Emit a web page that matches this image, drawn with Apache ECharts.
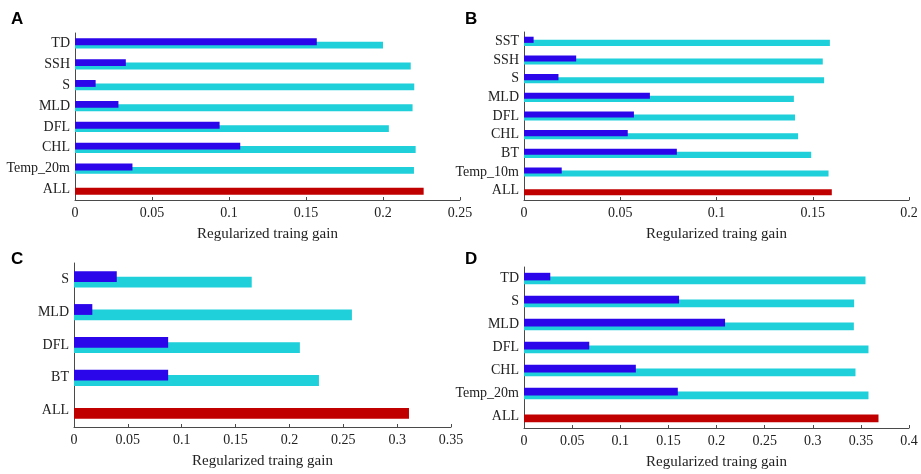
<!DOCTYPE html>
<html><head><meta charset="utf-8">
<script src="https://cdn.jsdelivr.net/npm/echarts@6/dist/echarts.min.js"></script>
<style>html,body{margin:0;padding:0;background:#fff}#c{width:921px;height:474px}</style>
</head><body><div id="c"></div>
<script>
// Panel A
const catsA = ['ALL','Temp_20m','CHL','DFL','MLD','S','SSH','TD'];
const withoutA = [null,0.0373,0.1073,0.0939,0.0282,0.0134,0.0330,0.157];
const onlyA = [0.2264,0.2201,0.2212,0.2038,0.2192,0.2203,0.2180,0.200];
// Panel B
const catsB = ['ALL','Temp_10m','BT','CHL','DFL','MLD','S','SSH','SST'];
const withoutB = [null,0.0196,0.0794,0.0539,0.0571,0.0654,0.0179,0.0271,0.0050];
const onlyB = [0.1599,0.1582,0.1492,0.1424,0.1408,0.1402,0.1559,0.1552,0.1589];
// Panel C
const catsC = ['ALL','BT','DFL','MLD','S'];
const withoutC = [null,0.0874,0.0874,0.0170,0.0397];
const onlyC = [0.311,0.2274,0.2097,0.258,0.165];
// Panel D
const catsD = ['ALL','Temp_20m','CHL','DFL','MLD','S','TD'];
const withoutD = [null,0.1598,0.1162,0.0678,0.2089,0.1611,0.0273];
const onlyD = [0.3683,0.3579,0.3444,0.3579,0.3427,0.343,0.3548];
const maxes = [0.25,0.2,0.35,0.4];
const panelLabels = ['A','B','C','D'];

const BLUE = '#2C06EA', CYAN = '#1FCFD9', RED = '#C00000', AX = '#4a4a4a';
const serif = 'Liberation Serif';
const chart = echarts.init(document.getElementById('c'));
const grids = [
  {left:75, width:385, top:33, height:167},
  {left:524, width:385, top:32, height:168},
  {left:74, width:377, top:263, height:164},
  {left:524, width:385, top:267, height:161}
];
const cats = [catsA,catsB,catsC,catsD];
const wos = [withoutA,withoutB,withoutC,withoutD];
const ons = [onlyA,onlyB,onlyC,onlyD];
const xAxis = [], yAxis = [], series = [], graphic = [];
grids.forEach((g,i)=>{
  xAxis.push({type:'value', gridIndex:i, min:0, max:maxes[i], interval:0.05,
    splitLine:{show:false},
    axisLine:{show:true, lineStyle:{color:AX, width:1}},
    axisTick:{show:true, inside:true, length:3, lineStyle:{color:AX}},
    axisLabel:{fontFamily:serif, fontSize:14, color:'#222', margin:6},
    name:'Regularized traing gain', nameLocation:'middle', nameGap:27,
    nameTextStyle:{fontFamily:serif, fontSize:15, color:'#222'}});
  yAxis.push({type:'category', gridIndex:i, data:cats[i],
    axisLine:{show:true, lineStyle:{color:AX, width:1}},
    axisTick:{show:false},
    axisLabel:{fontFamily:serif, fontSize:14, color:'#222', margin:5}});
  series.push({type:'bar', xAxisIndex:i, yAxisIndex:i, data:wos[i],
    barWidth:'33%', barGap:'-50%', itemStyle:{color:BLUE}, z:3, silent:true});
  series.push({type:'bar', xAxisIndex:i, yAxisIndex:i, data:ons[i].map((v,k)=> k===0 ? {value:v, itemStyle:{color:RED}} : v),
    barWidth:'33%', barGap:'-50%', itemStyle:{color:CYAN}, z:2, silent:true});
});
const labelPos = [[11,11],[465,11],[11,251],[465,251]];
labelPos.forEach((p,i)=>graphic.push({type:'text', left:p[0], top:p[1],
  style:{text:panelLabels[i], font:'bold 17px "Liberation Sans"', fill:'#000'}}));
chart.setOption({animation:false, grid:grids, xAxis, yAxis, series, graphic});
</script></body></html>
